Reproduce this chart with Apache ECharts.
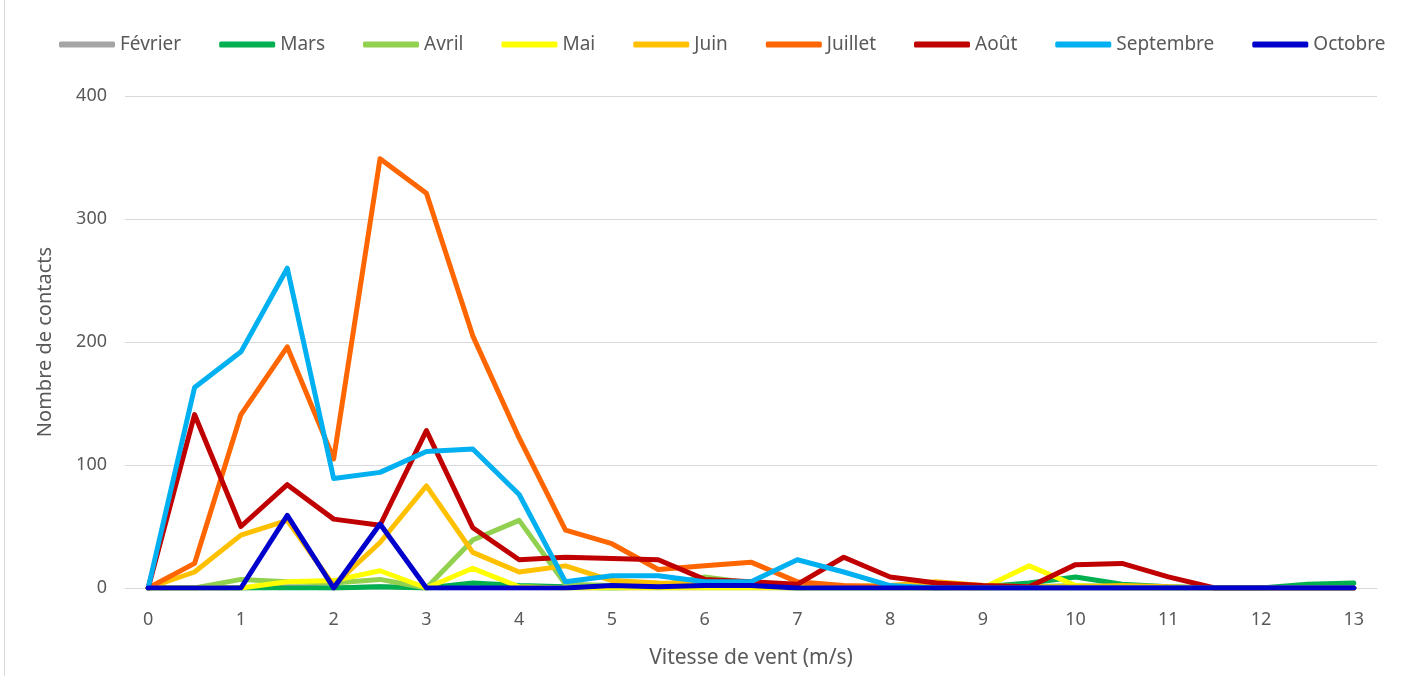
<!DOCTYPE html>
<html>
<head>
<meta charset="utf-8">
<script src="https://cdn.jsdelivr.net/npm/echarts@6/dist/echarts.min.js"></script>
<style>
  html, body { margin: 0; padding: 0; background: #ffffff; }
  #chart { width: 1404px; height: 676px; }
</style>
</head>
<body>
<div id="chart"></div>
<script>
// Wind speed classes (m/s), one point every 0.5 m/s
const vitesses = ['0','0.5','1','1.5','2','2.5','3','3.5','4','4.5','5','5.5','6','6.5','7','7.5','8','8.5','9','9.5','10','10.5','11','11.5','12','12.5','13'];

// Number of bat contacts per wind speed class, by month
const fevrier   = [0,0,0,1,0,1,0,0,0,0,0,0,0,0,0,0,0,0,0,0,0,0,0,0,0,0,0];
const mars      = [0,0,0,0,0,1,0,4,2,1,0,1,2,1,0,0,0,0,1,4,9,3,1,0,0,3,4];
const avril     = [0,0,7,5,4,7,0,39,55,3,2,2,9,4,0,1,2,1,0,1,2,1,0,0,0,0,0];
const mai       = [0,0,0,5,6,14,0,16,1,0,0,0,0,0,0,0,0,0,0,18,2,0,0,0,0,0,0];
const juin      = [0,13,43,55,2,37,83,29,13,18,6,4,3,2,1,1,2,5,2,1,1,2,1,0,0,0,0];
const juillet   = [0,20,141,196,105,349,321,205,122,47,36,15,18,21,5,2,1,0,0,0,0,0,0,0,0,0,0];
const aout      = [0,141,50,84,56,51,128,49,23,25,24,23,7,5,3,25,9,4,2,1,19,20,9,0,0,0,0];
const septembre = [0,163,192,260,89,94,111,113,76,5,10,10,5,5,23,13,2,0,0,0,0,0,0,0,0,0,0];
const octobre   = [0,0,0,59,0,52,0,0,0,0,2,1,2,2,0,0,0,0,0,0,0,0,0,0,0,0,0];

const mois = [
  { name: 'Février',   data: fevrier,   color: '#A5A5A5' },
  { name: 'Mars',      data: mars,      color: '#00B050' },
  { name: 'Avril',     data: avril,     color: '#92D050' },
  { name: 'Mai',       data: mai,       color: '#FFFF00' },
  { name: 'Juin',      data: juin,      color: '#FFC000' },
  { name: 'Juillet',   data: juillet,   color: '#FF6600' },
  { name: 'Août',      data: aout,      color: '#C00000' },
  { name: 'Septembre', data: septembre, color: '#00B0F0' },
  { name: 'Octobre',   data: octobre,   color: '#0000CC' }
];

const textColor = '#595959';
const fontFamily = '"Noto Sans", "Open Sans", sans-serif';

const chart = echarts.init(document.getElementById('chart'), null, { renderer: 'canvas' });

chart.setOption({
  backgroundColor: '#ffffff',
  animation: false,
  textStyle: { fontFamily: fontFamily, color: textColor },
  graphic: [{
    type: 'line',
    shape: { x1: 4.5, y1: 0, x2: 4.5, y2: 676 },
    style: { stroke: '#d9d9d9', lineWidth: 1 }
  }],
  legend: {
    top: 30,
    left: 54,
    itemWidth: 56,
    itemHeight: 6,
    itemGap: 38,
    icon: 'roundRect',
    textStyle: { fontSize: 19, color: textColor, fontFamily: fontFamily },
    data: mois.map(m => m.name)
  },
  grid: { left: 125, right: 27, top: 96, bottom: 88, containLabel: false },
  xAxis: {
    type: 'category',
    data: vitesses,
    boundaryGap: true,
    name: 'Vitesse de vent (m/s)',
    nameLocation: 'middle',
    nameGap: 60,
    nameTextStyle: { fontSize: 21, color: textColor },
    axisLine: { show: true, lineStyle: { color: '#d9d9d9', width: 1 } },
    axisTick: { show: false },
    axisLabel: { interval: 1, margin: 23, fontSize: 18, color: textColor },
    splitLine: { show: false }
  },
  yAxis: {
    type: 'value',
    min: 0,
    max: 400,
    interval: 100,
    name: 'Nombre de contacts',
    nameLocation: 'middle',
    nameGap: 70,
    nameTextStyle: { fontSize: 20, color: textColor },
    axisLine: { show: false },
    axisTick: { show: false },
    axisLabel: { margin: 18, fontSize: 18, color: textColor },
    splitLine: { lineStyle: { color: '#d9d9d9', width: 1 } }
  },
  series: mois.map(m => ({
    name: m.name,
    type: 'line',
    data: m.data,
    showSymbol: false,
    symbol: 'none',
    color: m.color,
    lineStyle: { width: 5, color: m.color, join: 'round', cap: 'round' },
    emphasis: { disabled: true }
  }))
});
</script>
</body>
</html>
